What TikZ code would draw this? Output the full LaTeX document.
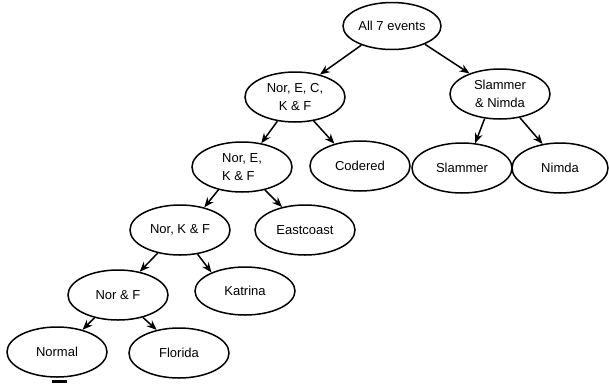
\documentclass[tikz,border=0pt]{standalone}
\usepackage{fontspec}
\setmainfont{Liberation Sans}
\usetikzlibrary{shapes.geometric,arrows.meta}
\begin{document}
\begin{tikzpicture}[x=1pt,y=-1pt,
  ev/.style={ellipse,draw,line width=1.5pt,minimum width=100pt,minimum height=50pt,inner sep=0pt,align=center,font=\fontsize{13}{18}\selectfont},
  arr/.style={-{Stealth[length=10pt,width=8pt]},line width=1.5pt}]
\useasboundingbox (0,0) rectangle (609,383);
\node[ev,minimum width=98pt,minimum height=47pt] (all) at (392,26) {All 7 events};
\node[ev] (neckf) at (295,97) {Nor, E, C,\\K \& F};
\node[ev] (sn) at (500,94) {Slammer\\\& Nimda};
\node[ev,align=left] (nekf) at (242,167) {Nor, E,\\K \& F};
\node[ev] (cod) at (360,166) {Codered};
\node[ev] (sla) at (462,168) {Slammer};
\node[ev,minimum width=96pt] (nim) at (560,168) {Nimda};
\node[ev] (nkf) at (180,230) {Nor, K \& F};
\node[ev] (east) at (305,230) {Eastcoast};
\node[ev] (nf) at (118,295) {Nor \& F};
\node[ev,minimum height=48pt] (kat) at (245,291) {Katrina};
\node[ev] (norm) at (57,352) {Normal};
\node[ev] (flo) at (179,353) {Florida};
\draw[arr] (all.212) -- (neckf.42);
\draw[arr] (all.331) -- (sn.146);
\draw[arr] (sn.238) -- (sla.62);
\draw[arr] (sn.310) -- (nim.126);
\draw[arr] (neckf.234) -- (nekf.51);
\draw[arr] (neckf.308) -- (cod.139);
\draw[arr] (nekf.224) -- (nkf.43);
\draw[arr] (nekf.315) -- (east.135);
\draw[arr] (nkf.226) -- (nf.47);
\draw[arr] (nkf.306) -- (kat.151);
\draw[arr] (nf.224) -- (norm.41);
\draw[arr] (nf.318) -- (flo.134);
\fill (52,380) rectangle (67,383);
\end{tikzpicture}
\end{document}
